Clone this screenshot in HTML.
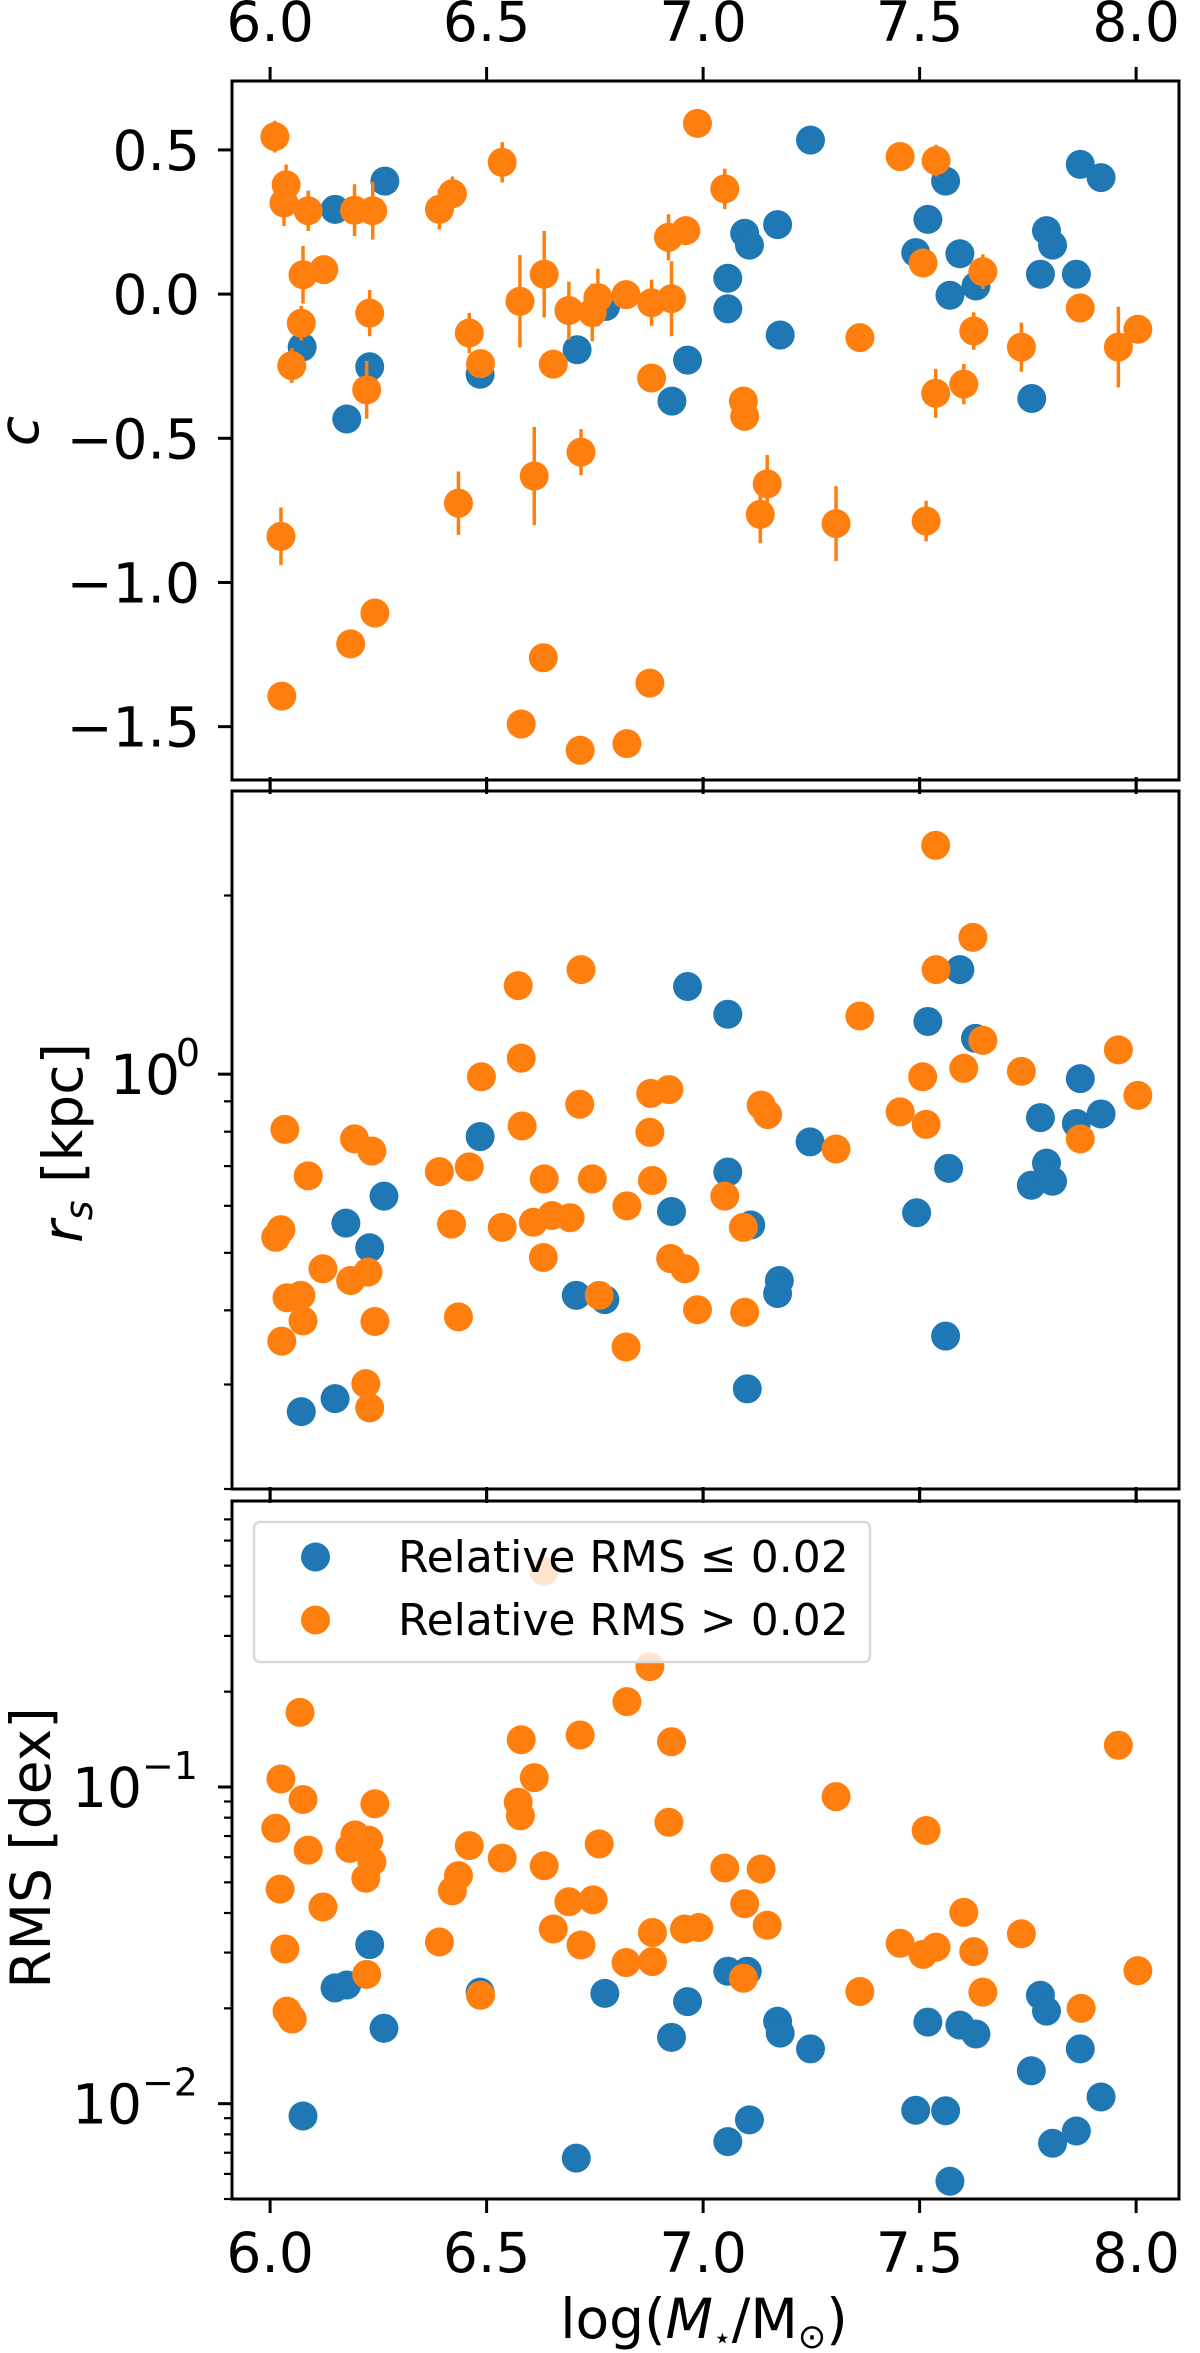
<!DOCTYPE html>
<html><head><meta charset="utf-8"><style>
html,body{margin:0;padding:0;background:#fff;}
svg{display:block;font-family:"DejaVu Sans","Liberation Sans",sans-serif;}
</style></head><body>
<svg id="fig" width="1200" height="2353" viewBox="0 0 1200 2353" xmlns="http://www.w3.org/2000/svg">
<rect x="0" y="0" width="1200" height="2353" fill="#fff"/>
<g id="p1"></g>
<g id="p2"></g>
<g id="p3"></g>
<g id="lab"></g>
</svg>
<script>
// ---- Data ----
const xTicks = [6.0, 6.5, 7.0, 7.5, 8.0];
const xTickLabels = ["6.0", "6.5", "7.0", "7.5", "8.0"];
const cTicks = [0.5, 0.0, -0.5, -1.0, -1.5];
const cTickLabels = ["0.5", "0.0", "\u22120.5", "\u22121.0", "\u22121.5"];

// Panel 1: c
const cBlueX = [6.074,6.150,6.177,6.230,6.265,6.485,6.709,6.775,6.928,6.964,7.057,7.057,7.096,7.107,7.172,7.178,7.248,7.491,7.519,7.560,7.570,7.593,7.630,7.759,7.779,7.793,7.807,7.862,7.871,7.919];
const cBlueY = [-0.184,0.294,-0.433,-0.252,0.392,-0.278,-0.193,-0.043,-0.371,-0.229,0.055,-0.051,0.211,0.170,0.241,-0.142,0.534,0.144,0.259,0.392,-0.004,0.140,0.028,-0.362,0.069,0.220,0.170,0.069,0.450,0.404];
const cOrangeX = [6.011,6.037,6.032,6.088,6.195,6.237,6.076,6.124,6.072,6.050,6.230,6.223,6.025,6.027,6.186,6.242,6.391,6.421,6.536,6.460,6.486,6.435,6.577,6.633,6.610,6.654,6.690,6.744,6.757,6.718,6.822,6.881,6.927,6.920,6.960,6.881,6.987,7.050,7.093,7.096,7.148,7.132,6.580,6.631,6.716,6.824,6.877,7.307,7.362,7.455,7.538,7.508,7.515,7.537,7.602,7.646,7.625,7.735,7.871,7.959,8.004];
const cOrangeY = [0.546,0.379,0.316,0.289,0.291,0.289,0.067,0.085,-0.101,-0.248,-0.066,-0.332,-0.840,-1.394,-1.213,-1.106,0.294,0.348,0.457,-0.135,-0.241,-0.725,-0.025,0.069,-0.631,-0.243,-0.057,-0.064,-0.012,-0.548,-0.002,-0.030,-0.016,0.197,0.220,-0.291,0.592,0.365,-0.371,-0.424,-0.658,-0.764,-1.491,-1.261,-1.582,-1.559,-1.349,-0.796,-0.151,0.477,0.463,0.108,-0.787,-0.344,-0.312,0.078,-0.128,-0.184,-0.048,-0.184,-0.122];
const cOrangeErr = [0.055,0.07,0.08,0.07,0.09,0.10,0.10,0.02,0.06,0.06,0.08,0.10,0.10,0.0,0.0,0.0,0.07,0.06,0.07,0.07,0.02,0.11,0.16,0.15,0.17,0.0,0.10,0.10,0.10,0.08,0.02,0.08,0.13,0.08,0.02,0.02,0.0,0.07,0.02,0.02,0.10,0.10,0.0,0.0,0.0,0.0,0.0,0.13,0.02,0.0,0.055,0.02,0.07,0.085,0.07,0.06,0.065,0.085,0.02,0.14,0.02];

// Panel 2: r_s [kpc]
const rBlueX = [6.072,6.150,6.175,6.230,6.263,6.485,6.707,6.773,6.927,6.964,7.057,7.057,7.110,7.102,7.176,7.172,7.247,7.493,7.519,7.560,7.567,7.593,7.629,7.758,7.779,7.793,7.807,7.862,7.871,7.919];
const rBlueY = [0.270,0.284,0.561,0.510,0.623,0.785,0.424,0.417,0.587,1.405,1.262,0.684,0.557,0.295,0.449,0.427,0.769,0.584,1.227,0.362,0.694,1.50,1.149,0.650,0.845,0.708,0.660,0.826,0.983,0.857];
const rOrangeX = [6.034,6.088,6.195,6.235,6.013,6.025,6.039,6.071,6.076,6.027,6.122,6.186,6.226,6.242,6.221,6.230,6.391,6.460,6.419,6.435,6.488,6.536,6.573,6.580,6.582,6.608,6.633,6.651,6.693,6.631,6.718,6.715,6.744,6.760,6.824,6.822,6.879,6.921,6.877,6.883,6.925,6.958,6.987,7.050,7.093,7.096,7.134,7.149,7.307,7.362,7.455,7.507,7.515,7.537,7.538,7.602,7.623,7.646,7.735,7.871,7.959,8.004];
const rOrangeY = [0.807,0.674,0.778,0.742,0.531,0.547,0.420,0.424,0.384,0.355,0.470,0.449,0.464,0.383,0.301,0.274,0.685,0.698,0.559,0.390,0.990,0.552,1.41,1.064,0.818,0.563,0.666,0.578,0.573,0.491,1.50,0.890,0.666,0.424,0.600,0.347,0.928,0.942,0.798,0.662,0.489,0.470,0.401,0.623,0.552,0.397,0.887,0.855,0.748,1.253,0.864,0.990,0.823,2.43,1.50,1.023,1.70,1.14,1.011,0.778,1.099,0.921];
const rMajorTicks = [1];
const rMinorTicks = [0.2,0.3,0.4,0.5,0.6,0.7,0.8,0.9,2];

// Panel 3: RMS [dex]
const sBlueX = [6.076,6.150,6.177,6.230,6.263,6.485,6.707,6.773,6.927,6.964,7.057,7.057,7.102,7.107,7.172,7.178,7.248,7.491,7.519,7.560,7.570,7.593,7.630,7.758,7.779,7.793,7.807,7.862,7.871,7.919];
const sBlueY = [0.00914,0.0232,0.0237,0.0318,0.0173,0.0225,0.00673,0.0223,0.0162,0.0210,0.00759,0.0262,0.0262,0.00889,0.0182,0.0167,0.0149,0.00953,0.0181,0.0095,0.00569,0.0177,0.0166,0.0127,0.0220,0.0196,0.0075,0.0082,0.0149,0.0105];
const sOrangeX = [6.025,6.013,6.076,6.069,6.088,6.023,6.122,6.034,6.039,6.051,6.242,6.196,6.228,6.184,6.235,6.221,6.223,6.391,6.421,6.435,6.460,6.486,6.536,6.580,6.573,6.578,6.610,6.633,6.654,6.690,6.716,6.718,6.746,6.760,6.824,6.877,6.822,6.883,6.883,6.921,6.927,6.957,6.990,7.050,7.096,7.134,7.148,7.093,7.307,7.362,7.455,7.508,7.538,7.515,7.602,7.625,7.646,7.735,7.873,7.959,8.004,6.633];
const sOrangeY = [0.106,0.0741,0.0913,0.172,0.0632,0.0476,0.0418,0.0308,0.0196,0.0185,0.0885,0.0706,0.0679,0.0640,0.0580,0.0515,0.0256,0.0324,0.0470,0.0525,0.0653,0.0220,0.0596,0.141,0.0895,0.0811,0.107,0.0564,0.0356,0.0434,0.146,0.0317,0.0440,0.0661,0.186,0.240,0.0279,0.0347,0.0281,0.0774,0.139,0.0356,0.0360,0.0555,0.0428,0.0551,0.0366,0.0249,0.0932,0.0226,0.0321,0.0296,0.0312,0.0729,0.0402,0.0302,0.0225,0.0344,0.0200,0.1355,0.0263,0.48];
const sMajorTicks = [0.01,0.1];
const sMinorTicks = [0.005,0.006,0.007,0.008,0.009,0.02,0.03,0.04,0.05,0.06,0.07,0.08,0.09,0.2,0.3,0.4,0.5,0.6,0.7];

// ---- Layout ----
const NS = "http://www.w3.org/2000/svg";
const BLUE = "#1f77b4", ORANGE = "#ff7f0e";
const L = 232, R = 1179;
const xMin = 5.912, xMax = 8.099;
const P1 = {top:81, bot:780}, P2 = {top:791, bot:1489}, P3 = {top:1501, bot:2199};
function sx(v){ return L + (v - xMin) / (xMax - xMin) * (R - L); }
const c1 = {min:-1.685, max:0.739};
function sy1(v){ return P1.bot - (v - c1.min)/(c1.max - c1.min)*(P1.bot - P1.top); }
const r2 = {min:0.2, max:3};
function sy2(v){ return P2.bot - (Math.log10(v) - Math.log10(r2.min))/(Math.log10(r2.max)-Math.log10(r2.min))*(P2.bot-P2.top); }
const s3 = {min:0.005, max:0.8};
function sy3(v){ return P3.bot - (Math.log10(v) - Math.log10(s3.min))/(Math.log10(s3.max)-Math.log10(s3.min))*(P3.bot-P3.top); }

function mk(tag, attrs, parent){
  const e = document.createElementNS(NS, tag);
  for (const k in attrs) e.setAttribute(k, attrs[k]);
  parent.appendChild(e);
  return e;
}

function dots(g, xs, ys, sy, color, name){
  const grp = mk("g", {}, g);
  
  
  for (let i=0;i<xs.length;i++){
    const c = mk("circle", {cx:sx(xs[i]), cy:sy(ys[i]), r:14.5, fill:color}, grp);
    
    
  }
}

function frame(g, P, name){
  // x ticks top and bottom (outward)
  for (const t of xTicks){
    const a = mk("line", {x1:sx(t), x2:sx(t), y1:P.top, y2:P.top-14, stroke:"#000", "stroke-width":3}, g);
    
    
    const b = mk("line", {x1:sx(t), x2:sx(t), y1:P.bot, y2:P.bot+14, stroke:"#000", "stroke-width":3}, g);
    
    
  }
  const f = mk("rect", {x:L, y:P.top, width:R-L, height:P.bot-P.top, fill:"none", stroke:"#000", "stroke-width":3}, g);
  
  
}

function ytick(g, y, len){
  const t = mk("line", {x1:L, x2:L-len, y1:y, y2:y, stroke:"#000", "stroke-width":len>10?3:2.2}, g);
  
  
}

function txt(g, x, y, s, size, anchor, name){
  const t = mk("text", {x:x, y:y, "font-size":size, "text-anchor":anchor||"middle", fill:"#000"}, g);
  t.textContent = s;
  
  
  return t;
}

// ---- Panel 1 ----
const g1 = document.getElementById('p1');
dots(g1, cBlueX, cBlueY, sy1, BLUE, 'c-blue-series');
{
  const eg = mk("g", {}, g1);
  
  
  for (let i=0;i<cOrangeX.length;i++){
    if (cOrangeErr[i] <= 0) continue;
    const l = mk("line", {x1:sx(cOrangeX[i]), x2:sx(cOrangeX[i]), y1:sy1(cOrangeY[i]-cOrangeErr[i]), y2:sy1(cOrangeY[i]+cOrangeErr[i]), stroke:ORANGE, "stroke-width":3.5}, eg);
    
    
  }
}
dots(g1, cOrangeX, cOrangeY, sy1, ORANGE, 'c-orange-series');
frame(g1, P1, 'c-panel');
for (let i=0;i<cTicks.length;i++){
  const y = sy1(cTicks[i]);
  ytick(g1, y, 14);
  txt(g1, 200, y+20, cTickLabels[i], 55, "end", 'c-tick-label');
}
for (let i=0;i<xTicks.length;i++) txt(g1, sx(xTicks[i]), 41, xTickLabels[i], 55, "middle", 'x-tick-label-top');

// ---- Panel 2 ----
const g2 = document.getElementById('p2');
dots(g2, rBlueX, rBlueY, sy2, BLUE, 'rs-blue-series');
dots(g2, rOrangeX, rOrangeY, sy2, ORANGE, 'rs-orange-series');
frame(g2, P2, 'rs-panel');
for (const t of rMinorTicks) ytick(g2, sy2(t), 8);
for (const t of rMajorTicks){
  const y = sy2(t);
  ytick(g2, y, 14);
  const tt = txt(g2, 180, y+20, "10", 55, "end", 'rs-tick-label');
  const sup = txt(g2, 200, y-8, "0", 38, "end", 'rs-tick-exponent');
}

// ---- Panel 3 ----
const g3 = document.getElementById('p3');
dots(g3, sBlueX, sBlueY, sy3, BLUE, 'rms-blue-series');
dots(g3, sOrangeX, sOrangeY, sy3, ORANGE, 'rms-orange-series');
frame(g3, P3, 'rms-panel');
for (const t of sMinorTicks) ytick(g3, sy3(t), 8);
for (const t of sMajorTicks){
  const y = sy3(t);
  ytick(g3, y, 14);
  txt(g3, 142, y+20, "10", 55, "end", 'rms-tick-label');
  txt(g3, 198, y-8, "\u2212" + Math.round(-Math.log10(t)), 38, "end", 'rms-tick-exponent');
}
for (let i=0;i<xTicks.length;i++) txt(g3, sx(xTicks[i]), 2272, xTickLabels[i], 55, "middle", 'x-tick-label');

// legend
{
  const lg = mk("g", {}, g3);
  
  
  const box = mk("rect", {x:254, y:1522, width:616, height:140, rx:6, fill:"#fff", "fill-opacity":0.8, stroke:"#d9d9d9", "stroke-width":2.5}, lg);
  
  
  const m1 = mk("circle", {cx:315.5, cy:1557, r:14.5, fill:BLUE}, lg);
  
  
  const m2 = mk("circle", {cx:315.5, cy:1620, r:14.5, fill:ORANGE}, lg);
  
  
  txt(lg, 398, 1572, "Relative RMS  \u2264 0.02", 44, "start", 'legend-entry-low');
  txt(lg, 398, 1635, "Relative RMS  > 0.02", 44, "start", 'legend-entry-high');
}

// ---- Axis labels ----
const gl = document.getElementById('lab');
{
  const t = txt(gl, 0, 0, "c", 55, "middle", 'c-axis-title');
  t.setAttribute("font-style","italic");
  t.setAttribute("transform","translate(38,431) rotate(-90)");
  const t2 = mk("text", {"font-size":55, "text-anchor":"middle", transform:"translate(82,1143) rotate(-90)"}, gl);
  
  
  t2.innerHTML = '<tspan font-style="italic">r</tspan><tspan font-style="italic" font-size="38" dy="10">s</tspan><tspan dy="-10"> [kpc]</tspan>';
  const t3 = txt(gl, 0, 0, "RMS [dex]", 55, "middle", 'rms-axis-title');
  t3.setAttribute("transform","translate(50,1848) rotate(-90)");
  const t4 = mk("text", {x:704, y:2338, "font-size":55, "text-anchor":"middle"}, gl);
  
  
  t4.innerHTML = 'log(<tspan font-style="italic">M</tspan><tspan font-size="30" dy="10">\u22C6</tspan><tspan dy="-10">/M</tspan><tspan font-size="34" dy="10">\u2299</tspan><tspan dy="-10">)</tspan>';
}
</script>
</body></html>
